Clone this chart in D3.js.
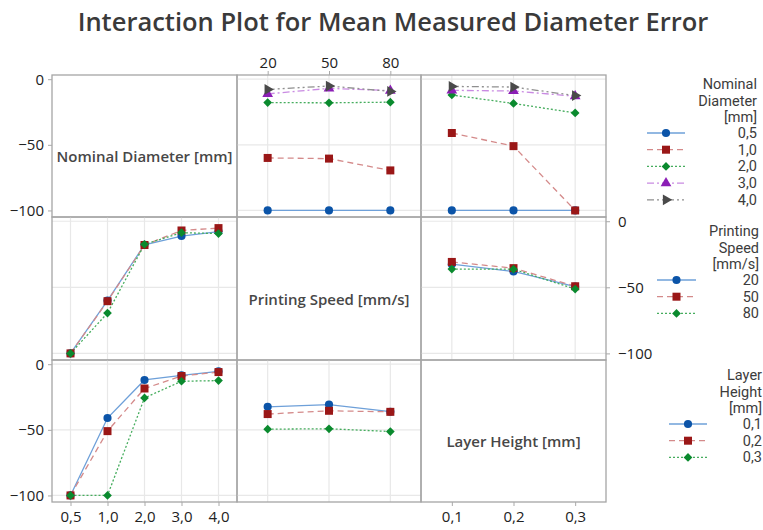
<!DOCTYPE html>
<html>
<head>
<meta charset="utf-8">
<script src="https://cdn.jsdelivr.net/npm/d3@7"></script>
<style>
	body { margin: 0; background: #fff; }
	svg text { font-family: "Open Sans", "Noto Sans", sans-serif; }
	svg text.legendText { font-family: Roboto, "Open Sans", sans-serif; }
</style>
</head>
<body>
<div id="chart"></div>
<script>
// factor levels
var nominalLevels = ["0,5", "1,0", "2,0", "3,0", "4,0"];
var speedLevels = ["20", "50", "80"];
var layerLevels = ["0,1", "0,2", "0,3"];
var yTicks = [0, -50, -100];

// means, rows = nominal diameter, cols = printing speed
var ndBySpeed = [
	[-100, -100, -100],
	[-60, -60.5, -69.5],
	[-17.8, -18, -17.5],
	[-11.2, -7, -8.7],
	[-7.8, -5.2, -9.3]
];
// rows = nominal diameter, cols = layer height
var ndByLayer = [
	[-100, -100, -100],
	[-41, -51, -100],
	[-12, -18.5, -25.7],
	[-8.5, -9, -13],
	[-5.5, -6, -12.5]
];
// rows = printing speed, cols = layer height
var speedByLayer = [
	[-32.5, -38, -49.5],
	[-30.8, -35.5, -49.2],
	[-36.2, -36.3, -51.3]
];

var factorNames = ["Nominal Diameter [mm]", "Printing Speed [mm/s]", "Layer Height [mm]"];
var legendTitles = [["Nominal", "Diameter", "[mm]"], ["Printing", "Speed", "[mm/s]"], ["Layer", "Height", "[mm]"]];

var width = 763, height = 530;
var colX = [52, 237, 421, 606];
var rowY = [75, 217, 360, 502];

var markerColors = ["#0b54a8", "#9a1717", "#0a8a2e", "#8b1eb5", "#4a4a4a"];
var lineColors = ["#6ea0d9", "#d48a8a", "#46ad5e", "#c98be2", "#8f8f8f"];
var dashes = [null, "6,4", "2,2", "7,3,2,3", "7,3,2,3,2,3"];

var svg = d3.select("#chart").append("svg")
	.attr("width", width)
	.attr("height", height);

svg.append("text")
	.attr("x", 393)
	.attr("y", 31)
	.attr("text-anchor", "middle")
	.attr("font-size", 25.5)
	.attr("font-weight", 600)
	.attr("fill", "#3a3a3a")
	.text("Interaction Plot for Mean Measured Diameter Error");

var levels = [nominalLevels, speedLevels, layerLevels];

function transpose(m) {
	return m[0].map(function (_, j) { return m.map(function (r) { return r[j]; }); });
}

// series for panel (row = trace factor, col = x factor)
function panelSeries(r, c) {
	if (r == 0 && c == 1) return ndBySpeed;
	if (r == 0 && c == 2) return ndByLayer;
	if (r == 1 && c == 0) return transpose(ndBySpeed);
	if (r == 1 && c == 2) return speedByLayer;
	if (r == 2 && c == 0) return transpose(ndByLayer);
	if (r == 2 && c == 1) return transpose(speedByLayer);
	return null;
}

function drawMarker(g, i, x, y) {
	var sym;
	var rot = 0;
	if (i == 0) sym = d3.symbol().type(d3.symbolCircle).size(52);
	if (i == 1) sym = d3.symbol().type(d3.symbolSquare).size(64);
	if (i == 2) { sym = d3.symbol().type(d3.symbolSquare).size(38); rot = 45; }
	if (i == 3) sym = d3.symbol().type(d3.symbolTriangle).size(50);
	if (i == 4) { sym = d3.symbol().type(d3.symbolTriangle).size(50); rot = 90; }
	g.append("path")
		.attr("d", sym())
		.attr("transform", "translate(" + x + "," + y + ") rotate(" + rot + ")")
		.attr("fill", markerColors[i]);
}

var yScales = [];

for (var r = 0; r < 3; r++) {
	var y = d3.scaleLinear().domain([-105, 3.2]).range([rowY[r + 1], rowY[r]]);
	yScales.push(y);
	for (var c = 0; c < 3; c++) {
		var x = d3.scalePoint().domain(levels[c]).range([colX[c], colX[c + 1]]).padding(0.5);
		var g = svg.append("g");
		var series = panelSeries(r, c);

		if (series) {
			// grid
			g.selectAll(".gy").data(yTicks).enter().append("line")
				.attr("x1", colX[c]).attr("x2", colX[c + 1])
				.attr("y1", function (d) { return y(d); })
				.attr("y2", function (d) { return y(d); })
				.attr("stroke", "#e8e8e8").attr("stroke-width", 1.2);
			g.selectAll(".gx").data(levels[c]).enter().append("line")
				.attr("x1", function (d) { return x(d); })
				.attr("x2", function (d) { return x(d); })
				.attr("y1", rowY[r]).attr("y2", rowY[r + 1])
				.attr("stroke", "#e8e8e8").attr("stroke-width", 1.2);

			var line = d3.line()
				.x(function (d, k) { return x(levels[c][k]); })
				.y(function (d) { return y(d); });

			series.forEach(function (vals, i) {
				g.append("path")
					.attr("d", line(vals))
					.attr("fill", "none")
					.attr("stroke", lineColors[i])
					.attr("stroke-width", 1.3)
					.attr("stroke-dasharray", dashes[i]);
			});
			series.forEach(function (vals, i) {
				vals.forEach(function (v, k) {
					drawMarker(g, i, x(levels[c][k]), y(v));
				});
			});
		} else {
			g.append("text")
				.attr("x", (colX[c] + colX[c + 1]) / 2)
				.attr("y", (rowY[r] + rowY[r + 1]) / 2 + 16)
				.attr("text-anchor", "middle")
				.attr("font-size", 15)
				.attr("font-weight", 600)
				.attr("fill", "#474747")
				.text(factorNames[r]);
		}

		g.append("rect")
			.attr("x", colX[c]).attr("y", rowY[r])
			.attr("width", colX[c + 1] - colX[c])
			.attr("height", rowY[r + 1] - rowY[r])
			.attr("fill", "none")
			.attr("stroke", "#a5a5a5")
			.attr("stroke-width", 1.3);
	}
}

// y axes: left for rows 0 and 2, right for row 1
[0, 2].forEach(function (r) {
	var ax = svg.append("g")
		.attr("transform", "translate(" + colX[0] + ",0)")
		.call(d3.axisLeft(yScales[r]).tickValues(yTicks).tickSize(4).tickPadding(4));
	ax.select(".domain").remove();
});
var axR = svg.append("g")
	.attr("transform", "translate(" + colX[3] + ",0)")
	.call(d3.axisRight(yScales[1]).tickValues(yTicks).tickSize(4).tickPadding(8));
axR.select(".domain").remove();

// x axes: top for speed, bottom for nominal and layer
var axT = svg.append("g")
	.attr("transform", "translate(0," + rowY[0] + ")")
	.call(d3.axisTop(d3.scalePoint().domain(speedLevels).range([colX[1], colX[2]]).padding(0.5)).tickSize(4).tickPadding(3));
axT.select(".domain").remove();
[0, 2].forEach(function (c) {
	var ax = svg.append("g")
		.attr("transform", "translate(0," + rowY[3] + ")")
		.call(d3.axisBottom(d3.scalePoint().domain(levels[c]).range([colX[c], colX[c + 1]]).padding(0.5)).tickSize(4).tickPadding(5));
	ax.select(".domain").remove();
});

svg.selectAll(".tick text")
	.attr("font-size", 15)
	.attr("fill", "#222")
	.attr("font-family", "'Open Sans', sans-serif");
svg.selectAll(".tick line").attr("stroke", "#a9a9a9");

// legends
var legendRight = [757, 759, 762];
var legendTop = [84, 231, 375];
var legendSym = [[647, 685], [657, 696], [669, 707]];
for (var r = 0; r < 3; r++) {
	var lg = svg.append("g");
	legendTitles[r].forEach(function (s, i) {
		lg.append("text")
			.attr("class", "legendText")
			.attr("x", legendRight[r])
			.attr("y", legendTop[r] + 5 + i * 16.6)
			.attr("text-anchor", "end")
			.attr("font-size", 14.5)
			.attr("fill", "#3c3c3c")
			.text(s);
	});
	levels[r].forEach(function (lv, i) {
		var yy = legendTop[r] + 49 + i * 16.7;
		lg.append("line")
			.attr("x1", legendSym[r][0]).attr("x2", legendSym[r][1])
			.attr("y1", yy).attr("y2", yy)
			.attr("stroke", lineColors[i])
			.attr("stroke-width", 1.3)
			.attr("stroke-dasharray", dashes[i]);
		drawMarker(lg, i, (legendSym[r][0] + legendSym[r][1]) / 2, yy);
		lg.append("text")
			.attr("class", "legendText")
			.attr("x", legendRight[r]).attr("y", yy + 5)
			.attr("text-anchor", "end")
			.attr("font-size", 14.5)
			.attr("fill", "#3c3c3c")
			.text(lv);
	});
}
</script>
</body>
</html>
